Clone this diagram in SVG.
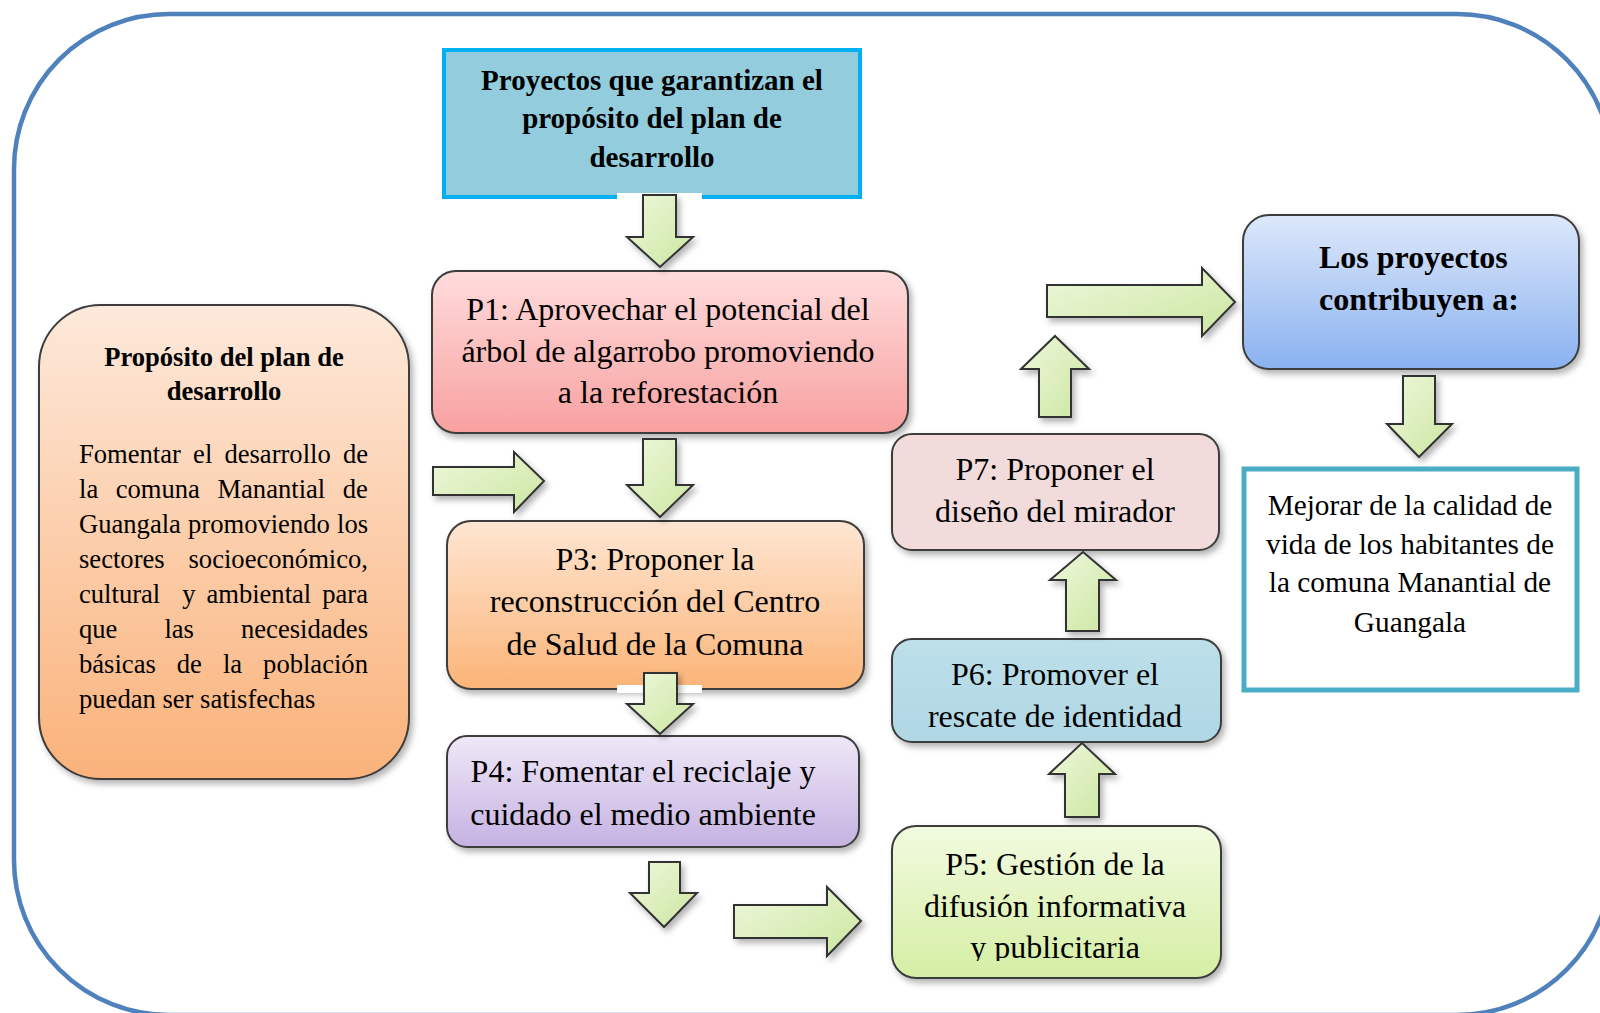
<svg xmlns="http://www.w3.org/2000/svg" width="1600" height="1013" viewBox="0 0 1600 1013">
<style>
text{font-family:"Liberation Serif","Times New Roman",serif;fill:#000}
.t32{font-size:32px;text-anchor:middle}
.t29{font-size:29.3px;text-anchor:middle}
.hb{font-size:29px;font-weight:bold;text-anchor:middle}
.lb{font-size:32px;font-weight:bold}
.pt{font-size:26.6px;font-weight:bold;text-anchor:middle}
.pb{font-size:26.6px}
.box{stroke:#3c3c3c;stroke-width:2;filter:url(#sh)}
.arr{fill:url(#ga);stroke:#333;stroke-width:2;stroke-linejoin:miter;filter:url(#sh)}
</style>
<defs>
<filter id="sh" x="-10%" y="-10%" width="125%" height="130%">
<feDropShadow dx="3" dy="4" stdDeviation="3" flood-color="#000" flood-opacity="0.3"/>
</filter>
<linearGradient id="gp1" x1="0" y1="0" x2="0" y2="1"><stop offset="0" stop-color="#ffdcdc"/><stop offset="1" stop-color="#f8a0a0"/></linearGradient>
<linearGradient id="glb" x1="0" y1="0" x2="0" y2="1"><stop offset="0" stop-color="#fde9db"/><stop offset="1" stop-color="#fab27a"/></linearGradient>
<linearGradient id="gp3" x1="0" y1="0" x2="0" y2="1"><stop offset="0" stop-color="#fee6d2"/><stop offset="1" stop-color="#fbb478"/></linearGradient>
<linearGradient id="gp4" x1="0" y1="0" x2="0" y2="1"><stop offset="0" stop-color="#efe8f7"/><stop offset="1" stop-color="#c5b2e2"/></linearGradient>
<linearGradient id="gp5" x1="0" y1="0" x2="0" y2="1"><stop offset="0" stop-color="#f2fbe0"/><stop offset="1" stop-color="#d5eea4"/></linearGradient>
<linearGradient id="gp6" x1="0" y1="0" x2="0" y2="1"><stop offset="0" stop-color="#bde0ea"/><stop offset="1" stop-color="#afd7e4"/></linearGradient>
<linearGradient id="glp" x1="0" y1="0" x2="0" y2="1"><stop offset="0" stop-color="#dde8fb"/><stop offset="1" stop-color="#8ab2f0"/></linearGradient>
<linearGradient id="ga" x1="0" y1="0" x2="1" y2="1"><stop offset="0" stop-color="#eef8dc"/><stop offset="1" stop-color="#cbe6a0"/></linearGradient>
<clipPath id="c5"><rect x="880" y="820" width="350" height="141"/></clipPath>
</defs>
<rect width="1600" height="1013" fill="#fff"/>
<rect id="frame" x="14" y="14" width="1598" height="1001" rx="155" fill="none" stroke="#4f81bd" stroke-width="4.5"/>

<g id="header">
<rect x="444" y="50" width="416" height="147" fill="#93cddd" stroke="#00b0f0" stroke-width="4"/>
<text class="hb" x="652" y="90">Proyectos que garantizan el</text>
<text class="hb" x="652" y="128">propósito del plan de</text>
<text class="hb" x="652" y="167">desarrollo</text>
</g>

<g id="proposito">
<rect class="box" x="39" y="305" width="370" height="474" rx="62" fill="url(#glb)"/>
<text class="pt" x="224" y="366">Propósito del plan de</text>
<text class="pt" x="224" y="400">desarrollo</text>
<text class="pb" y="463"><tspan x="79">Fomentar</tspan><tspan x="193.1">el</tspan><tspan x="224.4">desarrollo</tspan><tspan x="342.9">de</tspan></text>
<text class="pb" y="498"><tspan x="79">la</tspan><tspan x="115.7">comuna</tspan><tspan x="217.4">Manantial</tspan><tspan x="342.8">de</tspan></text>
<text class="pb" y="533"><tspan x="79">Guangala</tspan><tspan x="188">promoviendo</tspan><tspan x="337">los</tspan></text>
<text class="pb" y="568"><tspan x="79">sectores</tspan><tspan x="188.5">socioeconómico,</tspan></text>
<text class="pb" y="603"><tspan x="79">cultural</tspan><tspan x="182.2">y</tspan><tspan x="206.4">ambiental</tspan><tspan x="322.2">para</tspan></text>
<text class="pb" y="638"><tspan x="79">que</tspan><tspan x="164.4">las</tspan><tspan x="241">necesidades</tspan></text>
<text class="pb" y="673"><tspan x="79">básicas</tspan><tspan x="176.8">de</tspan><tspan x="222.9">la</tspan><tspan x="263.1">población</tspan></text>
<text class="pb" x="79" y="708">puedan ser satisfechas</text>
</g>

<g id="p1">
<rect class="box" x="432" y="271" width="476" height="162" rx="24" fill="url(#gp1)"/>
<text class="t32" x="668" y="320">P1: Aprovechar el potencial del</text>
<text class="t32" x="668" y="362">árbol de algarrobo promoviendo</text>
<text class="t32" x="668" y="403">a la reforestación</text>
</g>

<g id="p3">
<rect class="box" x="447" y="521" width="417" height="168" rx="24" fill="url(#gp3)"/>
<text class="t32" x="655" y="570">P3: Proponer la</text>
<text class="t32" x="655" y="612">reconstrucción del Centro</text>
<text class="t32" x="655" y="655">de Salud de la Comuna</text>
</g>

<g id="p4">
<rect class="box" x="447" y="736" width="412" height="111" rx="20" fill="url(#gp4)"/>
<text class="t32" x="643" y="782">P4: Fomentar el reciclaje y</text>
<text class="t32" x="643" y="825">cuidado el medio ambiente</text>
</g>

<g id="p5">
<rect class="box" x="892" y="826" width="329" height="152" rx="24" fill="url(#gp5)"/>
<g clip-path="url(#c5)">
<text class="t32" x="1055" y="875">P5: Gestión de la</text>
<text class="t32" x="1055" y="917">difusión informativa</text>
<text class="t32" x="1055" y="958">y publicitaria</text>
</g>
</g>

<g id="p6">
<rect class="box" x="892" y="639" width="329" height="103" rx="20" fill="url(#gp6)"/>
<text class="t32" x="1055" y="685">P6: Promover el</text>
<text class="t32" x="1055" y="727">rescate de identidad</text>
</g>

<g id="p7">
<rect class="box" x="892" y="434" width="327" height="116" rx="20" fill="#f2dcdb"/>
<text class="t32" x="1055" y="480">P7: Proponer el</text>
<text class="t32" x="1055" y="522">diseño del mirador</text>
</g>

<g id="contribuyen">
<rect class="box" x="1243" y="215" width="336" height="154" rx="26" fill="url(#glp)"/>
<text class="lb" x="1319" y="268">Los proyectos</text>
<text class="lb" x="1319" y="310">contribuyen a:</text>
</g>

<g id="mejorar">
<rect x="1244" y="469" width="333" height="221" fill="#fff" stroke="#4bacc6" stroke-width="5"/>
<text class="t29" x="1410" y="515">Mejorar de la calidad de</text>
<text class="t29" x="1410" y="554">vida de los habitantes de</text>
<text class="t29" x="1410" y="592">la comuna Manantial de</text>
<text class="t29" x="1410" y="632">Guangala</text>
</g>

<g id="connectors">
<rect x="617" y="193" width="85" height="8" fill="#fff"/>
<path class="arr" d="M643,195 L676,195 L676,237 L693,237 L660,267 L627,237 L643,237 Z"/>
<path class="arr" d="M643,439 L676,439 L676,485 L693,485 L660,517 L627,485 L643,485 Z"/>
<rect x="617" y="685" width="85" height="8" fill="#fff"/>
<path class="arr" d="M644,673 L677,673 L677,704 L693,704 L660,734 L627,704 L644,704 Z"/>
<path class="arr" d="M649,862 L680,862 L680,893 L697,893 L664,927 L630,893 L649,893 Z"/>
<path class="arr" d="M734,905 L827,905 L827,887 L861,921 L827,956 L827,938 L734,938 Z"/>
<path class="arr" d="M433,467 L514,467 L514,452 L544,481 L514,512 L514,495 L433,495 Z"/>
<path class="arr" d="M1065,817 L1099,817 L1099,774 L1115,774 L1082,743 L1049,774 L1065,774 Z"/>
<path class="arr" d="M1066,631 L1099,631 L1099,580 L1116,580 L1083,552 L1050,580 L1066,580 Z"/>
<path class="arr" d="M1039,417 L1071,417 L1071,369 L1089,369 L1055,336 L1021,369 L1039,369 Z"/>
<path class="arr" d="M1047,285 L1202,285 L1202,268 L1235,302 L1202,336 L1202,317 L1047,317 Z"/>
<path class="arr" d="M1403,376 L1435,376 L1435,424 L1452,424 L1419,457 L1387,424 L1403,424 Z"/>
</g>
</svg>
